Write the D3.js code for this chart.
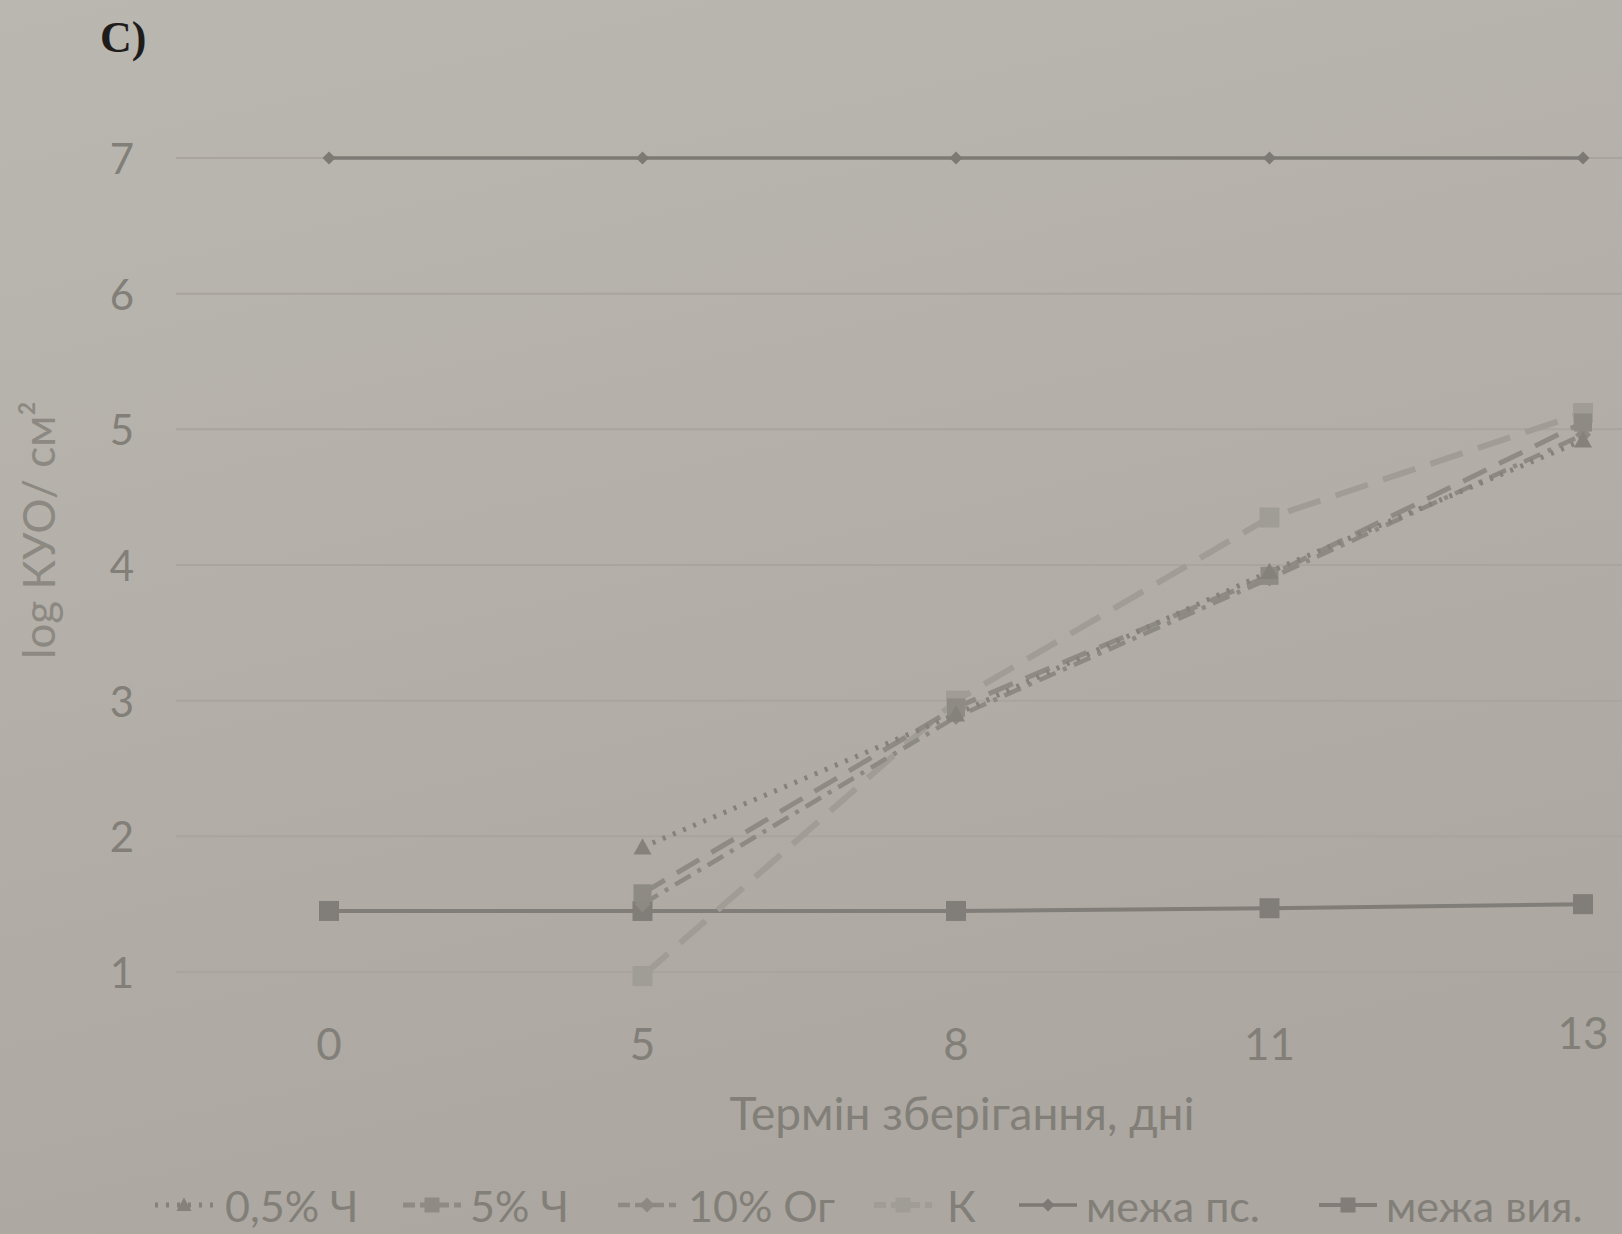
<!DOCTYPE html>
<html>
<head>
<meta charset="utf-8">
<script src="https://cdn.jsdelivr.net/npm/d3@7"></script>
<style>
  html, body { margin: 0; padding: 0; background: #b4b0a9; }
  svg { display: block; }
</style>
</head>
<body>
<svg id="chart" width="1622" height="1234"></svg>
<script>
// Storage days (categorical axis)
const days = ["0", "5", "8", "11", "13"];
const yTicks = [1, 2, 3, 4, 5, 6, 7];

// log CFU / cm² per treatment (null = not measured)
const ch05  = [null, 1.92, 2.90, 3.95, 4.92];   // 0,5% Ч
const ch5   = [null, 1.58, 2.95, 3.92, 5.05];   // 5% Ч
const og10  = [null, 1.50, 2.88, 3.90, 4.96];   // 10% Ог
const ctrl  = [null, 0.97, 3.00, 4.35, 5.12];   // К
const limPs = [7.00, 7.00, 7.00, 7.00, 7.00];   // межа пс.
const limVy = [1.45, 1.45, 1.45, 1.47, 1.50];   // межа вия.

const seriesNames = ["0,5% Ч", "5% Ч", "10% Ог", "К", "межа пс.", "межа вия."];

const svg = d3.select("#chart");
const W = 1622, H = 1234;

// paper-like background
const defs = svg.append("defs");
const bg = defs.append("linearGradient").attr("id", "paper")
  .attr("x1", 0).attr("y1", 0).attr("x2", 0.3).attr("y2", 1);
bg.append("stop").attr("offset", "0%").attr("stop-color", "#bab7b1");
bg.append("stop").attr("offset", "55%").attr("stop-color", "#b3afa8");
bg.append("stop").attr("offset", "100%").attr("stop-color", "#aca7a1");
svg.append("rect").attr("width", W).attr("height", H).attr("fill", "url(#paper)");

const font = "Lato, 'Open Sans', sans-serif";
const textColor = "#827f79";

const x = d3.scalePoint().domain(days).range([329, 1583]);
const y = d3.scaleLinear().domain([1, 7]).range([972, 158]);

// horizontal gridlines
svg.append("g").selectAll("line").data(yTicks).join("line")
  .attr("x1", 176).attr("x2", W)
  .attr("y1", d => y(d)).attr("y2", d => y(d))
  .attr("stroke", "#a9a59e").attr("stroke-width", 2);

// y tick labels
svg.append("g").selectAll("text").data(yTicks).join("text")
  .attr("x", 134).attr("y", d => y(d))
  .attr("text-anchor", "end").attr("dominant-baseline", "central")
  .attr("font-family", font).attr("font-size", 42)
  .attr("fill", textColor).text(d => d);

// x tick labels
svg.append("g").selectAll("text").data(days).join("text")
  .attr("x", d => x(d)).attr("y", d => d === "13" ? 1032 : 1043)
  .attr("text-anchor", "middle").attr("dominant-baseline", "central")
  .attr("font-family", font).attr("font-size", 44)
  .attr("fill", textColor).text(d => d);

// axis titles
svg.append("text")
  .attr("x", 962).attr("y", 1112)
  .attr("text-anchor", "middle").attr("dominant-baseline", "central")
  .attr("font-family", font).attr("font-size", 46)
  .attr("fill", textColor).text("Термін зберігання, дні");

svg.append("text")
  .attr("transform", "translate(38,530) rotate(-90)")
  .attr("text-anchor", "middle").attr("dominant-baseline", "central")
  .attr("font-family", font).attr("font-size", 44)
  .attr("fill", "#8c8983").text("log КУО/ см²");

// panel label
svg.append("text")
  .attr("x", 100).attr("y", 52)
  .attr("font-family", "'Liberation Serif', 'DejaVu Serif', serif")
  .attr("font-weight", "bold").attr("font-size", 44)
  .attr("fill", "#1e1d1b").text("C)");

// series definitions
const series = [
  { name: seriesNames[0], values: ch05,  color: "#85817b", width: 5,   dash: "3,8",        marker: "triangle", size: 18 },
  { name: seriesNames[1], values: ch5,   color: "#8e8a84", width: 5,   dash: "26,14",      marker: "square",   size: 18 },
  { name: seriesNames[2], values: og10,  color: "#8d8983", width: 4.5, dash: "18,8,4,8",   marker: "diamond",  size: 16 },
  { name: seriesNames[3], values: ctrl,  color: "#a09c96", width: 6,   dash: "34,16",      marker: "square",   size: 20 },
  { name: seriesNames[4], values: limPs, color: "#7d7a75", width: 3.5, dash: null,         marker: "diamond",  size: 13 },
  { name: seriesNames[5], values: limVy, color: "#817d78", width: 4,   dash: null,         marker: "square",   size: 20 }
];

function markerPath(type, s) {
  const h = s / 2;
  if (type === "triangle") return `M0,${-h}L${h},${h*0.8}L${-h},${h*0.8}Z`;
  if (type === "diamond")  return `M0,${-h}L${h},0L0,${h}L${-h},0Z`;
  return `M${-h},${-h}H${h}V${h}H${-h}Z`;
}

const line = d3.line()
  .defined(d => d.v !== null)
  .x(d => x(d.day)).y(d => y(d.v));

const plot = svg.append("g");
// draw back to front: limits first, then treatments
[4, 5, 3, 2, 1, 0].forEach(i => {
  const s = series[i];
  const pts = days.map((day, k) => ({ day, v: s.values[k] }));
  plot.append("path")
    .datum(pts)
    .attr("d", line)
    .attr("fill", "none")
    .attr("stroke", s.color)
    .attr("stroke-width", s.width)
    .attr("stroke-linecap", s.dash ? "butt" : "round")
    .attr("stroke-dasharray", s.dash);
  plot.append("g").selectAll("path").data(pts.filter(d => d.v !== null)).join("path")
    .attr("transform", d => `translate(${x(d.day)},${y(d.v)})`)
    .attr("d", markerPath(s.marker, s.size))
    .attr("fill", s.color);
});

// legend
const legendItems = [
  { s: series[0], x0: 155, tx: 225 },
  { s: series[1], x0: 403, tx: 470 },
  { s: series[2], x0: 618, tx: 688 },
  { s: series[3], x0: 874, tx: 947 },
  { s: series[4], x0: 1019, tx: 1086 },
  { s: series[5], x0: 1319, tx: 1386 }
];
const ly = 1205;
const lg = svg.append("g");
legendItems.forEach(it => {
  const s = it.s;
  lg.append("line")
    .attr("x1", it.x0).attr("x2", it.x0 + 58)
    .attr("y1", ly).attr("y2", ly)
    .attr("stroke", s.color).attr("stroke-width", s.width)
    .attr("stroke-dasharray", s.dash ? (s.marker === "triangle" ? "3,8" : "12,5") : null);
  lg.append("path")
    .attr("transform", `translate(${it.x0 + 29},${ly})`)
    .attr("d", markerPath(s.marker, Math.min(s.size, 15)))
    .attr("fill", s.color);
  lg.append("text")
    .attr("x", it.tx).attr("y", ly)
    .attr("dominant-baseline", "central")
    .attr("font-family", font).attr("font-size", 43)
    .attr("fill", textColor).text(s.name);
});
</script>
</body>
</html>
